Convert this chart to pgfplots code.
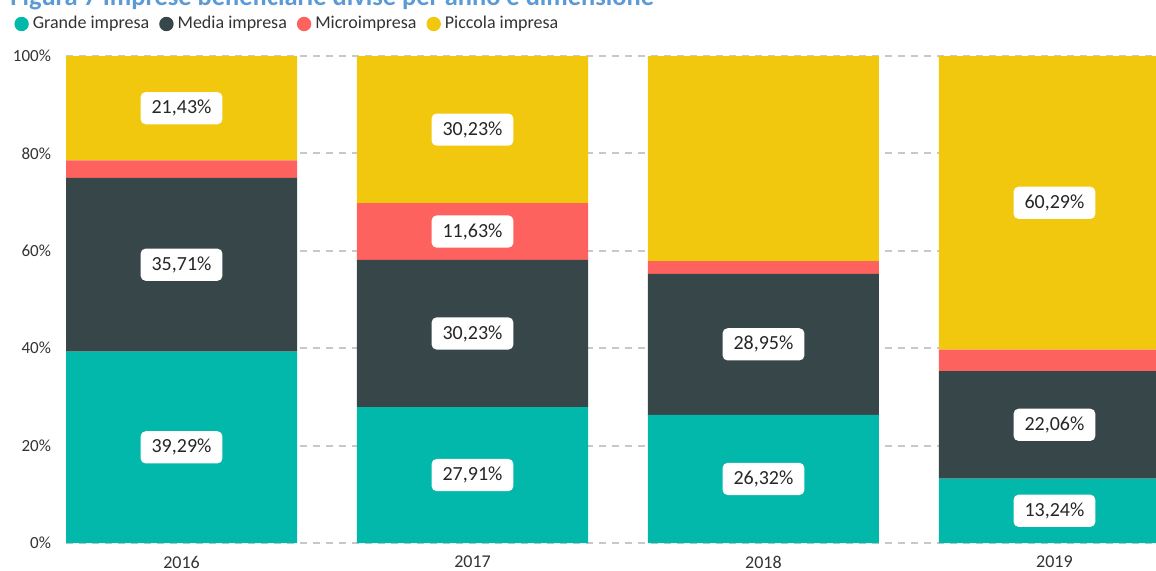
\documentclass[border=0pt]{standalone}
\usepackage{pgfplots}
\pgfplotsset{compat=1.18}
\usepackage{pgfplotstable}
\usepackage{fontspec}
\setmainfont{Carlito}

\definecolor{cGrande}{HTML}{01B8AA}
\definecolor{cMedia}{HTML}{374649}
\definecolor{cMicro}{HTML}{FD625E}
\definecolor{cPiccola}{HTML}{F2C80F}
\definecolor{cTitle}{HTML}{5B9BD5}
\definecolor{cText}{HTML}{333333}
\definecolor{cGrid}{HTML}{C8C8C8}

% quote per anno (%)
\pgfplotstableread{
x grande media micro piccola
0 39.29  35.71 3.57  21.43
1 27.91  30.23 11.63 30.23
2 26.32  28.95 2.63  42.11
3 13.24  22.06 4.41  60.29
}\quote

\pgfplotsset{
  seg/.style={
    nodes near coords={\pgfmathprintnumber[fixed,fixed zerofill,precision=2,use comma]{\pgfplotspointmeta}\%},
    visualization depends on={rawy\as\segval},
    every node near coord/.append style={anchor=center,
      /utils/exec={\ifdim\segval pt<5pt \def\show{0}\else\def\show{1}\fi},
      opacity=\show,
      fill=white, rounded corners=2.5pt, inner xsep=5.5pt, inner ysep=4pt,
      text=black!85, font=\fontsize{10}{11}\selectfont},
  },
}

\begin{document}
\begin{tikzpicture}
\begin{axis}[
  at={(0pt,0pt)}, anchor=south west,
  scale only axis, width=545pt, height=243.5pt,
  ybar stacked, bar width=115.5pt,
  xmin=-0.397, xmax=3.349, ymin=0, ymax=100,
  enlargelimits=false,
  axis line style={draw=none},
  major tick length=0pt,
  xtick={0,1,2,3}, xticklabels={2016,2017,2018,2019},
  ytick={0,20,40,60,80,100},
  yticklabel={\pgfmathprintnumber{\tick}\%},
  /pgf/number format/assume math mode=true,
  xticklabel style={font=\fontsize{9}{10}\selectfont, text=cText, yshift=-3pt},
  yticklabel style={font=\fontsize{8.5}{9}\selectfont, text=cText, xshift=-4pt},
  ymajorgrids, grid style={cGrid, line width=1pt, dash pattern=on 3.5pt off 3pt},
  point meta=explicit,
  legend columns=4,
  legend cell align=left,
  legend style={at={(0,1)}, anchor=west, xshift=-26pt, yshift=16pt,
    draw=none, fill=none, inner sep=0pt,
    font=\fontsize{9}{10}\selectfont, text=cText,
    /tikz/every even column/.append style={column sep=3pt}},
]
\addplot[fill=cGrande, draw=none, seg,
  legend image code/.code={\fill[cGrande] (3.6pt,0pt) circle (3.6pt);}]
  table[x=x, y=grande, meta=grande] {\quote};
\addplot[fill=cMedia, draw=none, seg,
  legend image code/.code={\fill[cMedia] (3.6pt,0pt) circle (3.6pt);}]
  table[x=x, y=media, meta=media] {\quote};
\addplot[fill=cMicro, draw=none, seg,
  legend image code/.code={\fill[cMicro] (3.6pt,0pt) circle (3.6pt);}]
  table[x=x, y=micro, meta=micro] {\quote};
\addplot[fill=cPiccola, draw=none, seg,
  legend image code/.code={\fill[cPiccola] (3.6pt,0pt) circle (3.6pt);}]
  table[x=x, y=piccola, meta=piccola] {\quote};
\legend{Grande impresa, Media impresa, Microimpresa, Piccola impresa}
\end{axis}
\node[anchor=base west, inner sep=0pt, text=cTitle, font=\fontsize{13.2}{15}\selectfont\bfseries]
  at (-28pt,269pt) {Figura 7 Imprese beneficiarie divise per anno e dimensione};
\pgfresetboundingbox
\useasboundingbox (-33pt,-13.5pt) rectangle (545pt,271.5pt);
\end{tikzpicture}
\end{document}
